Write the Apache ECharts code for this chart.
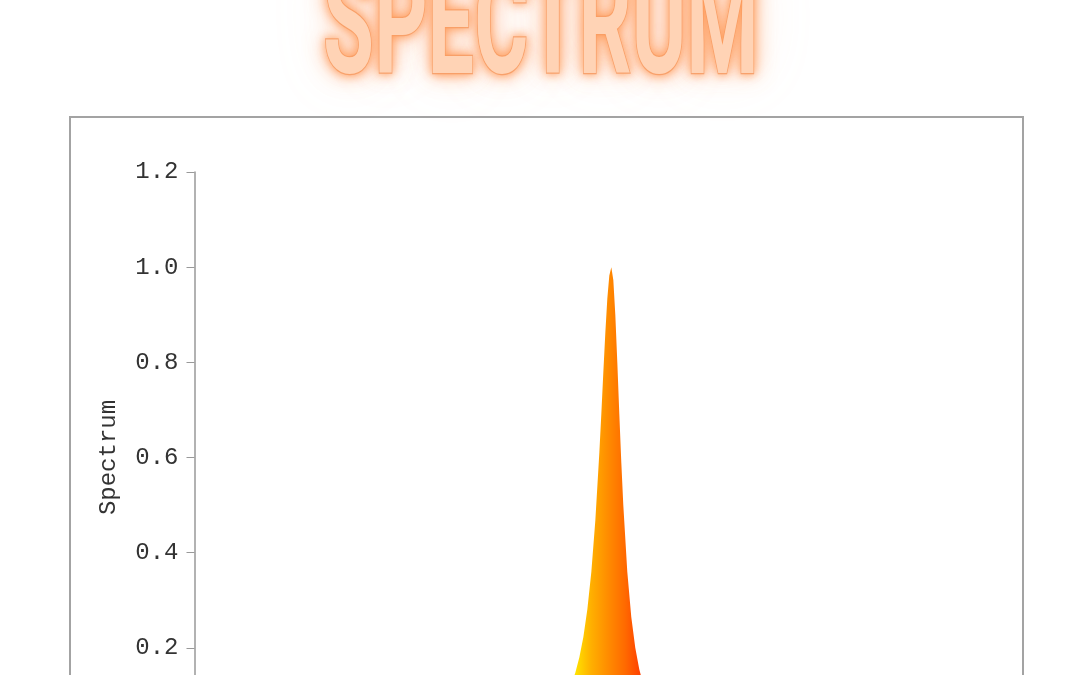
<!DOCTYPE html>
<html>
<head>
<meta charset="utf-8">
<script src="https://cdn.jsdelivr.net/npm/echarts@6/dist/echarts.min.js"></script>
<style>
html,body{margin:0;padding:0;background:#fff;overflow:hidden;width:1080px;height:675px;}
#chart{width:1080px;height:760px;}
</style>
</head>
<body>
<div id="chart"></div>
<script>
// Data (x in arbitrary frequency units, y = spectrum value)
var freq = [0.2, 12.2, 22.2, 32.2, 37.2, 42.2, 44.2, 46.2, 47.2, 47.7, 48.2, 48.7, 49.2, 49.7, 50.2, 50.7, 50.95, 51.2, 51.45, 51.7, 51.95, 52.2, 52.45, 52.7, 52.95, 53.2, 53.45, 53.7, 54.2, 54.7, 55.2, 55.7, 56.2, 57.2, 58.2, 60.2, 62.2, 67.2, 72.2, 82.2, 92.2, 99.9];
var spectrum = [0.0013, 0.0022, 0.0039, 0.0087, 0.0154, 0.034, 0.052, 0.089, 0.123, 0.148, 0.180, 0.223, 0.281, 0.360, 0.468, 0.610, 0.692, 0.779, 0.862, 0.934, 0.9825, 1.0, 0.973, 0.900, 0.800, 0.692, 0.590, 0.500, 0.360, 0.265, 0.200, 0.155, 0.123, 0.083, 0.059, 0.034, 0.022, 0.0099, 0.0056, 0.0025, 0.0014, 0.001];
var yTicks = [0, 0.2, 0.4, 0.6, 0.8, 1.0, 1.2];
var titleText = 'SPECTRUM';
var yName = 'Spectrum';

var chart = echarts.init(document.getElementById('chart'), null, {renderer: 'canvas'});
var seriesData = freq.map(function (x, i) { return [x, spectrum[i]]; });

function titleLayer(z, fill, stroke, lw, shadowColor, blur) {
  return {
    type: 'text', z: z,
    x: 541, y: 110, scaleX: 0.56, scaleY: 1,
    style: {
      text: titleText,
      font: 'bold 148px Roboto',
      textAlign: 'center', textVerticalAlign: 'bottom',
      fill: fill, stroke: stroke, lineWidth: lw,
      textShadowColor: shadowColor, textShadowBlur: blur
    }
  };
}

var option = {
  backgroundColor: '#ffffff',
  animation: false,
  graphic: [
    {
      type: 'rect', z: 0,
      shape: {x: 70, y: 117, width: 953, height: 700},
      style: {fill: 'none', stroke: '#a3a3a3', lineWidth: 2}
    },
    titleLayer(1, 'rgba(255,205,170,0.4)', 'none', 0, 'rgba(255,190,150,0.45)', 60),
    titleLayer(2, 'rgba(255,170,115,0.9)', 'none', 0, 'rgba(255,145,75,0.85)', 22),
    titleLayer(3, '#ffd3b5', '#f5a677', 2.5, 'rgba(255,150,80,0.8)', 8)
  ],
  grid: {left: 194.5, right: 87, top: 172, bottom: 17, containLabel: false},
  xAxis: {
    type: 'value', min: 0, max: 100, show: false
  },
  yAxis: {
    type: 'value', min: yTicks[0], max: yTicks[yTicks.length - 1], interval: 0.2,
    name: yName, nameLocation: 'middle', nameGap: 74, nameRotate: 90,
    nameTextStyle: {fontFamily: 'Liberation Mono', fontSize: 24, color: '#333'},
    axisLine: {show: true, lineStyle: {color: '#999', width: 1.5}},
    axisTick: {show: true, length: 8, lineStyle: {color: '#999', width: 1}},
    axisLabel: {
      fontFamily: 'Liberation Mono', fontSize: 24, color: '#333', margin: 16,
      formatter: function (v) { return v.toFixed(1); }
    },
    splitLine: {show: false}
  },
  series: [{
    type: 'line',
    data: seriesData,
    showSymbol: false,
    smooth: false,
    lineStyle: {width: 0},
    areaStyle: {
      opacity: 1,
      color: new echarts.graphic.LinearGradient(574, 0, 642, 0, [
        {offset: 0, color: '#ffe600'},
        {offset: 0.25, color: '#ffb000'},
        {offset: 0.5, color: '#ff8c00'},
        {offset: 0.75, color: '#ff6a00'},
        {offset: 1, color: '#ff3c00'}
      ], true)
    }
  }]
};
chart.setOption(option);
</script>
</body>
</html>
